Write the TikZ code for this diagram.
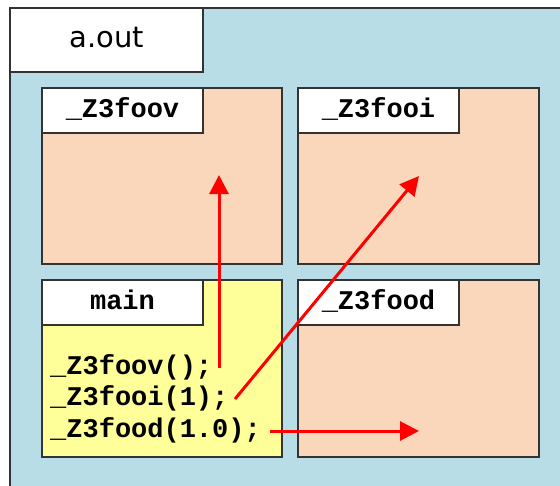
\documentclass[tikz,border=0pt]{standalone}
\usepackage{fontspec}
\setmonofont{Liberation Mono}
\newfontfamily\aoutfont{DejaVu Sans}
\usetikzlibrary{arrows.meta}
\definecolor{bgblue}{RGB}{184,221,230}
\definecolor{peach}{RGB}{250,215,187}
\definecolor{codeyellow}{RGB}{255,255,153}
\definecolor{edgegray}{RGB}{51,51,51}
\tikzset{
  frame/.style={draw=edgegray, line width=1.5pt, rectangle, inner sep=0pt, outer sep=0pt, anchor=north west},
  funcbox/.style={frame, fill=peach, minimum width=240pt, minimum height=176pt},
  mainbox/.style={frame, fill=codeyellow, minimum width=240pt, minimum height=177pt},
  tagbox/.style={frame, fill=white, minimum width=161pt, minimum height=45pt,
    font=\fontsize{27}{32}\selectfont\ttfamily\bfseries, text height=14pt, text depth=0pt},
  codeline/.style={inner sep=0pt, anchor=base west, font=\fontsize{27}{32}\selectfont\ttfamily\bfseries},
  call/.style={draw=red, line width=3pt, -{Triangle[length=19pt,width=19pt]}}
}
\begin{document}
\begin{tikzpicture}[x=1pt,y=-1pt]
\useasboundingbox (0,0) rectangle (560,485);
\fill[white] (0,0) rectangle (560,485);
\begin{scope}
\clip (0,0) rectangle (560,485);
\node[frame, fill=bgblue, minimum width=600pt, minimum height=520pt] (aoutbox) at (10,8) {};
\end{scope}
\node[frame, fill=white, minimum width=193pt, minimum height=64pt,
  font=\fontsize{29}{34}\selectfont\aoutfont, text height=14pt, text depth=0pt] (aout) at (10,8) {a.out};

\node[funcbox] (foov) at (42,88) {};
\node[tagbox] (foovtag) at (42,88) {\_Z3foov};
\node[funcbox, minimum width=241pt] (fooi) at (298,88) {};
\node[tagbox] (fooitag) at (298,88) {\_Z3fooi};
\node[mainbox] (main) at (42,280) {};
\node[tagbox] (maintag) at (42,280) {main};
\node[funcbox, minimum width=241pt, minimum height=177pt] (food) at (298,280) {};
\node[tagbox] (foodtag) at (298,280) {\_Z3food};

\node[codeline] (l1) at (50,374) {\_Z3foov();};
\node[codeline] (l2) at (50,405) {\_Z3fooi(1);};
\node[codeline] (l3) at (50,437) {\_Z3food(1.0);};

\coordinate (s1) at (219,368);
\coordinate (s2) at (235,399);
\coordinate (s3) at (270,431);
\coordinate (t1) at (219,175);
\coordinate (t2) at (419,176);
\coordinate (t3) at (419,431);
\draw[call] (s1) -- (t1);
\draw[call] (s2) -- (t2);
\draw[call] (s3) -- (t3);
\end{tikzpicture}
\end{document}
